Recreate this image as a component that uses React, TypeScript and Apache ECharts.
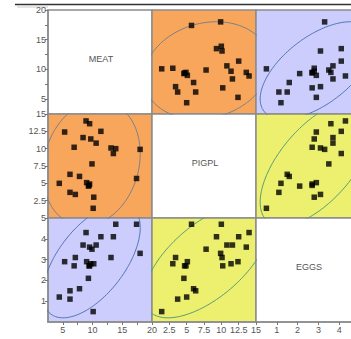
import React, { useEffect, useRef } from 'react';
import * as echarts from 'echarts';

const VARIABLES = ['MEAT', 'PIGPL', 'EGGS'];
const MEAT = [10.1, 8.9, 13.5, 7.8, 9.7, 10.6, 8.4, 9.5, 18.0, 10.2, 5.3, 13.9, 9.0, 9.5, 9.4, 6.9, 6.2, 6.2, 7.1, 9.9, 13.1, 17.4, 9.3, 11.4, 4.4];
const PIGPL = [1.4, 14.0, 9.3, 6.0, 11.4, 10.8, 11.6, 4.9, 9.9, 3.0, 12.4, 10.0, 5.1, 13.6, 4.7, 10.2, 3.7, 6.3, 3.4, 7.8, 10.1, 5.7, 4.6, 12.5, 5.0];
const EGGS = [0.5, 4.3, 4.1, 1.6, 2.8, 3.7, 3.7, 2.7, 3.3, 2.8, 2.9, 4.7, 2.9, 3.6, 2.7, 2.7, 1.1, 1.5, 3.1, 3.5, 3.1, 4.7, 2.1, 4.1, 1.2];
const AXIS_MIN = [2.5, 0, 0];
const AXIS_MAX = [20, 15, 5];
const TICK_STEP = [2.5, 2.5, 1];
const LABEL_STEP = [5, 2.5, 1];

const VALUES = [MEAT, PIGPL, EGGS];

// layout / style
const LEFT = 48;
const TOP = 10;
const CELL = 104;
const FONT = 'Liberation Sans, Arial, sans-serif';
const PAIR_STYLE: Record<string, { bg: string; line: string }> = {
  '0-1': { bg: '#F8A65B', line: '#7d7f88' },
  '0-2': { bg: '#CDCDFD', line: '#4f76b8' },
  '1-2': { bg: '#ECF06E', line: '#5a9c78' },
};

function densityEllipse(xs: number[], ys: number[], steps = 160): number[][] {
  const n = xs.length;
  const mx = xs.reduce((a, b) => a + b, 0) / n;
  const my = ys.reduce((a, b) => a + b, 0) / n;
  let sxx = 0, syy = 0, sxy = 0;
  for (let i = 0; i < n; i++) {
    sxx += (xs[i] - mx) ** 2;
    syy += (ys[i] - my) ** 2;
    sxy += (xs[i] - mx) * (ys[i] - my);
  }
  sxx /= n - 1; syy /= n - 1; sxy /= n - 1;
  const c = Math.sqrt(5.991); // 95% chi-square, 2 df
  const l11 = Math.sqrt(sxx);
  const l21 = sxy / l11;
  const l22 = Math.sqrt(Math.max(syy - l21 * l21, 0));
  const pts: number[][] = [];
  for (let k = 0; k <= steps; k++) {
    const t = (2 * Math.PI * k) / steps;
    pts.push([mx + c * l11 * Math.cos(t), my + c * (l21 * Math.cos(t) + l22 * Math.sin(t))]);
  }
  return pts;
}

function makeAxis(varIdx: number, gridIndex: number, show: boolean, isX: boolean) {
  const step = LABEL_STEP[varIdx];
  return {
    type: 'value',
    gridIndex,
    min: AXIS_MIN[varIdx],
    max: AXIS_MAX[varIdx],
    interval: TICK_STEP[varIdx],
    show,
    position: isX ? 'bottom' : 'left',
    axisLine: { show: true, lineStyle: { color: '#8c8c8c', width: 1.5 } },
    axisTick: { show: true, inside: false, length: 3, lineStyle: { color: '#777', width: 1 } },
    splitLine: { show: false },
    axisLabel: {
      show: true,
      margin: isX ? 3 : 2,
      fontSize: 9,
      fontFamily: FONT,
      color: '#555',
      showMinLabel: false,
      showMaxLabel: true,
      hideOverlap: false,
      formatter: (v: number) => {
        const q = v / step;
        return Math.abs(q - Math.round(q)) < 1e-6 ? String(v) : '';
      },
    },
  };
}

export default function App() {
  const ref = useRef<HTMLDivElement>(null);
  useEffect(() => {
    document.body.style.margin = '0';
    if (!ref.current) return;
    const chart = echarts.init(ref.current, undefined, { renderer: 'svg' });
    const grids: any[] = [];
    const xAxes: any[] = [];
    const yAxes: any[] = [];
    const series: any[] = [];
    const graphics: any[] = [];
    for (let r = 0; r < 3; r++) {
      for (let c = 0; c < 3; c++) {
        const g = r * 3 + c;
        const key = r < c ? `${r}-${c}` : `${c}-${r}`;
        const sty = PAIR_STYLE[key];
        grids.push({
          left: LEFT + c * CELL,
          top: TOP + r * CELL,
          width: CELL,
          height: CELL,
          show: true,
          backgroundColor: r === c ? '#ffffff' : sty.bg,
          borderColor: '#8c8c8c',
          borderWidth: 1.5,
          containLabel: false,
          outerBoundsMode: 'none',
        });
        xAxes.push(makeAxis(c, g, r === 2, true));
        yAxes.push(makeAxis(r, g, c === 0, false));
        if (r === c) {
          graphics.push({
            type: 'text',
            x: LEFT + c * CELL + CELL / 2 + 1,
            y: TOP + r * CELL + CELL / 2 - 3,
            style: {
              text: VARIABLES[r],
              fill: '#555',
              fontSize: 9,
              fontFamily: FONT,
              align: 'center',
              verticalAlign: 'middle',
            },
            z: 10,
          });
        } else {
          const xs = VALUES[c];
          const ys = VALUES[r];
          series.push({
            type: 'line',
            xAxisIndex: g,
            yAxisIndex: g,
            data: densityEllipse(xs, ys),
            showSymbol: false,
            symbol: 'none',
            clip: true,
            smooth: false,
            lineStyle: { color: sty.line, width: 1 },
            z: 2,
            silent: true,
          });
          series.push({
            type: 'scatter',
            xAxisIndex: g,
            yAxisIndex: g,
            data: xs.map((x, i) => [x, ys[i]]),
            symbol: 'rect',
            symbolSize: 5.5,
            itemStyle: { color: '#000' },
            clip: true,
            z: 3,
          });
        }
      }
    }
    graphics.push({
      type: 'line',
      shape: { x1: 15, y1: 4.5, x2: 351, y2: 4.5 },
      style: { stroke: '#333', lineWidth: 1.5 },
    });
    graphics.push({
      type: 'line',
      shape: { x1: 17, y1: 7, x2: 48, y2: 7 },
      style: { stroke: '#ccc', lineWidth: 1 },
    });
    chart.setOption({
      animation: false,
      backgroundColor: '#ffffff',
      grid: grids,
      xAxis: xAxes,
      yAxis: yAxes,
      series,
      graphic: graphics,
    });
    return () => chart.dispose();
  }, []);
  return <div ref={ref} style={{ width: 351, height: 339 }} />;
}
